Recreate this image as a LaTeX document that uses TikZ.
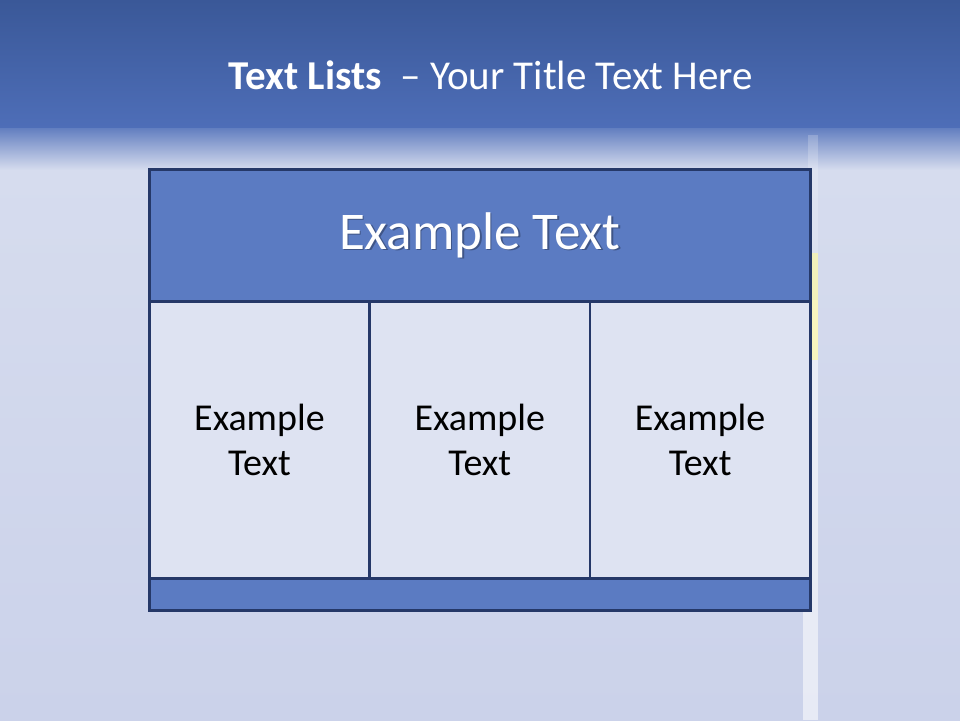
\documentclass[tikz,border=0pt]{standalone}
\usepackage{fontspec}
\setmainfont{Carlito}
\usetikzlibrary{positioning}

\definecolor{skytop}{HTML}{3A5898}
\definecolor{skyband}{HTML}{4E6EB8}
\definecolor{skypale}{HTML}{D6DCEE}
\definecolor{skylow}{HTML}{CBD2EA}
\definecolor{tableblue}{HTML}{5B7BC2}
\definecolor{tablecell}{HTML}{DEE3F2}
\definecolor{tableline}{HTML}{253868}

\tikzset{
  headbox/.style={draw=tableline, line width=2.6pt, fill=tableblue, text=white,
    font=\fontsize{53}{60}\selectfont, inner sep=0pt},
  cellbox/.style={draw=tableline, line width=2.6pt, fill=tablecell, text=black,
    font=\fontsize{38}{45}\selectfont, align=center, inner sep=0pt},
  footbox/.style={draw=tableline, line width=2.6pt, fill=tableblue, inner sep=0pt},
  titletext/.style={text=white, font=\fontsize{41}{50}\selectfont, inner sep=0pt}
}

\begin{document}
\begin{tikzpicture}[x=1pt, y=-1pt]
    \def\W{960}         % slide width
    \def\H{720}         % slide height
    \def\tx{148}        % table left edge
    \def\tw{661}        % table width
    \def\hh{132}        % header height
    \def\chh{277}       % cell height
    \def\fh{32}         % footer height
    \useasboundingbox (0,0) rectangle (\W,\H);
    % Sky background
    \shade[top color=skytop, bottom color=skyband] (0,0) rectangle (\W,128);
    \shade[top color=skyband!85!skypale, bottom color=skypale] (0,128) rectangle (\W,170);
    \shade[top color=skypale, bottom color=skylow] (0,170) rectangle (\W,\H);
    % Flag pole behind the table
    \fill[white, opacity=0.2] (808,135) rectangle (818,300);
    \fill[white, opacity=0.55] (803,300) rectangle (818,\H);
    \fill[yellow!40, opacity=0.6] (810,253) rectangle (818,360);
    % Title
    \node[titletext] (title) at (491,75) {\textbf{Text Lists}\ \ – Your Title Text Here};
    % Table header
    \node[headbox, minimum width=\tw, minimum height=\hh, anchor=north west] (head) at (\tx,168) {};
    \node[text=black, opacity=0.3, font=\fontsize{53}{60}\selectfont] at ([xshift=1.5,yshift=-1.5]head.center) {Example Text};
    \node[text=white, font=\fontsize{53}{60}\selectfont] (headtext) at (head.center) {Example Text};
    % Table cells
    \foreach \i in {0,1,2} {
        \node[cellbox, minimum width=\tw/3, minimum height=\chh, anchor=north west]
            (cell\i) at ({\tx+\i*\tw/3},{168+\hh}) {Example\\Text};
    }
    % Table footer
    \node[footbox, minimum width=\tw, minimum height=\fh, anchor=north west] (foot) at (\tx,{168+\hh+\chh}) {};
\end{tikzpicture}
\end{document}
